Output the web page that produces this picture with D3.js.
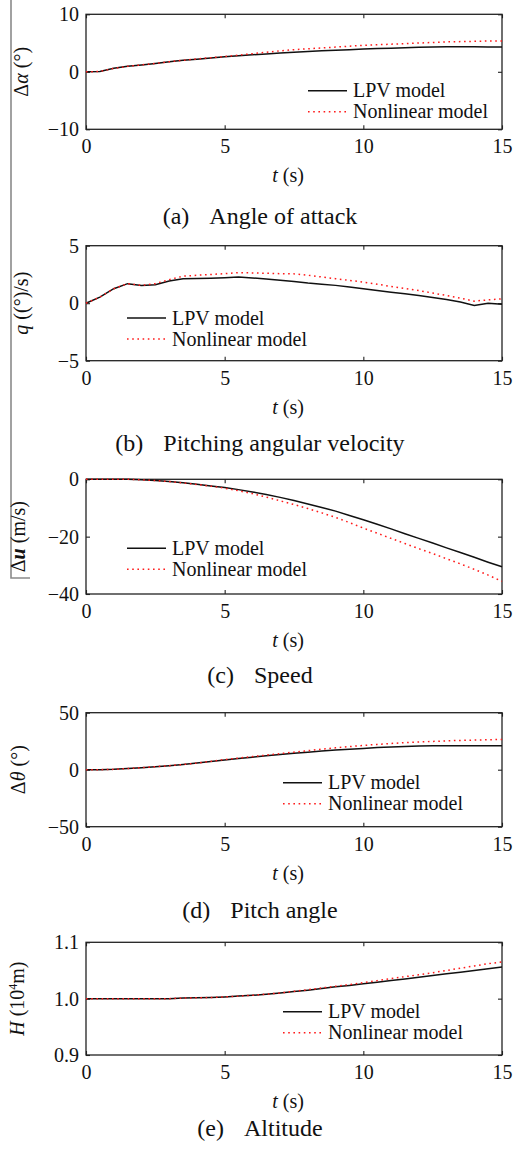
<!DOCTYPE html>
<html>
<head>
<meta charset="utf-8">
<script src="https://cdn.jsdelivr.net/npm/d3@7"></script>
<style>
  body { margin: 0; background: #fff; }
  svg { display: block; font-family: "Liberation Serif", "Times New Roman", serif; }
</style>
</head>
<body>
<svg width="513" height="1155"></svg>
<script>
// Sample times (s), shared by all panels
const times = [0, 0.5, 1, 1.5, 2, 2.5, 3, 3.5, 4, 4.5, 5, 5.5, 6, 6.5, 7, 7.5,
  8, 8.5, 9, 9.5, 10, 10.5, 11, 11.5, 12, 12.5, 13, 13.5, 14, 14.5, 15];
const xTicks = [0, 5, 10, 15];
const seriesNames = ['LPV model', 'Nonlinear model'];

// (a) angle of attack
const alphaLpv = [0, 0.05, 0.6, 0.95, 1.2, 1.45, 1.75, 2.0, 2.2, 2.4, 2.6, 2.8, 2.95, 3.1, 3.25,
  3.4, 3.55, 3.65, 3.75, 3.85, 3.95, 4.05, 4.1, 4.2, 4.25, 4.3, 4.35, 4.35, 4.35, 4.3, 4.3];
const alphaNonlin = [0, 0.05, 0.6, 0.95, 1.2, 1.45, 1.75, 2.0, 2.25, 2.45, 2.65, 2.9, 3.15, 3.4, 3.65,
  3.85, 4.0, 4.15, 4.3, 4.45, 4.6, 4.7, 4.8, 4.9, 5.0, 5.1, 5.2, 5.25, 5.3, 5.35, 5.35];
// (b) pitching angular velocity
const qLpv = [0, 0.53, 1.26, 1.7, 1.55, 1.6, 1.93, 2.13, 2.15, 2.18, 2.22, 2.28, 2.2, 2.1, 2.0,
  1.88, 1.75, 1.65, 1.55, 1.4, 1.26, 1.1, 0.96, 0.82, 0.67, 0.5, 0.32, 0.1, -0.2, 0, -0.1];
const qNonlin = [0, 0.53, 1.26, 1.7, 1.55, 1.7, 2.05, 2.35, 2.43, 2.5, 2.57, 2.66, 2.63, 2.6, 2.57,
  2.55, 2.43, 2.28, 2.13, 1.98, 1.84, 1.65, 1.46, 1.28, 1.1, 0.88, 0.67, 0.44, 0.18, 0.29, 0.38];
// (c) speed
const uLpv = [0, 0, 0, 0, -0.2, -0.45, -0.8, -1.2, -1.7, -2.3, -2.9, -3.6, -4.4, -5.3, -6.3,
  -7.4, -8.6, -9.8, -11.1, -12.6, -14.1, -15.7, -17.3, -19.0, -20.6, -22.2, -23.9, -25.5, -27.2, -28.9, -30.5];
const uNonlin = [0, 0, 0, 0, -0.2, -0.45, -0.8, -1.25, -1.8, -2.4, -3.1, -4.0, -5.0, -6.2, -7.5,
  -8.8, -10.2, -11.7, -13.3, -15.1, -17.0, -18.8, -20.6, -22.4, -24.2, -25.9, -27.7, -29.5, -31.4, -33.4, -35.6];
// (d) pitch angle
const thetaLpv = [0, 0, 0.3, 1.0, 1.8, 2.6, 3.5, 4.6, 5.8, 7.2, 8.6, 9.8, 11.0, 12.2, 13.3,
  14.4, 15.4, 16.4, 17.2, 18.0, 18.7, 19.4, 19.9, 20.4, 20.8, 20.9, 20.9, 20.9, 20.9, 20.9, 20.9];
const thetaNonlin = [0, 0, 0.3, 1.0, 1.8, 2.6, 3.5, 4.6, 5.8, 7.3, 8.9, 10.2, 11.5, 12.8, 14.1,
  15.4, 16.7, 18.0, 19.2, 20.3, 21.3, 22.2, 23.0, 23.7, 24.3, 24.8, 25.3, 25.7, 26.0, 26.3, 26.6];
// (e) altitude (10^4 m)
const hLpv = [1, 1, 1, 1, 1, 1, 1, 1.001, 1.0015, 1.002, 1.003, 1.0045, 1.006, 1.008, 1.010,
  1.0125, 1.015, 1.018, 1.021, 1.0235, 1.0265, 1.029, 1.032, 1.035, 1.038, 1.041, 1.044, 1.047, 1.050, 1.053, 1.056];
const hNonlin = [1, 1, 1, 1, 1, 1, 1, 1.001, 1.0015, 1.002, 1.003, 1.0045, 1.006, 1.008, 1.010,
  1.013, 1.0158, 1.019, 1.022, 1.025, 1.0285, 1.032, 1.0355, 1.039, 1.0425, 1.046, 1.050, 1.054, 1.058, 1.062, 1.065];

const yTicks = [[-10, 0, 10], [-5, 0, 5], [-40, -20, 0], [-50, 0, 50], [0.9, 1.0, 1.1]];
const yTickLabels = [['−10', '0', '10'], ['−5', '0', '5'], ['−40', '−20', '0'], ['−50', '0', '50'], ['0.9', '1.0', '1.1']];
const captionTags = ['(a)', '(b)', '(c)', '(d)', '(e)'];
const captionTexts = ['Angle of attack', 'Pitching angular velocity', 'Speed', 'Pitch angle', 'Altitude'];
// y label pieces: [text, style] where style is '', 'i' (italic) or 'bi' (bold italic)
const yLabels = [
  [['Δ', ''], ['α', 'i'], [' (°)', '']],
  [['q', 'i'], [' ((°)/s)', '']],
  [['Δ', ''], ['u', 'bi'], [' (m/s)', '']],
  [['Δ', ''], ['θ', 'i'], [' (°)', '']],
  [['H', 'i'], [' (10', ''], ['4', 'sup'], ['m)', 'down']],
];
const panelData = [
  [alphaLpv, alphaNonlin], [qLpv, qNonlin], [uLpv, uNonlin], [thetaLpv, thetaNonlin], [hLpv, hNonlin],
];

// Layout
const svg = d3.select('svg');
const plotLeft = 86;
const plotRight = 502;
const panelTops = [14.3, 245.7, 479.3, 712.7, 942.3];
const panelHeights = [115, 115, 114.7, 114, 112.7];
const yLabelX = [28, 28, 25, 25, 24];
const legendPos = [[308, 90.7], [127, 318], [127, 548.3], [283, 782.7], [283, 1011.7]];
const captionY = [224, 451, 683, 918, 1136];
const tickFont = 20;

// stray gray border of the source page
svg.append('path')
  .attr('d', 'M11,0V578H30')
  .attr('fill', 'none')
  .attr('stroke', '#8a8a8a')
  .attr('stroke-width', 1.6);

panelData.forEach((series, i) => {
  const w = plotRight - plotLeft;
  const h = panelHeights[i];
  const yt = yTicks[i];
  const x = d3.scaleLinear().domain([0, 15]).range([0, w]);
  const y = d3.scaleLinear().domain([yt[0], yt[2]]).range([h, 0]);

  const g = svg.append('g').attr('transform', `translate(${plotLeft},${panelTops[i]})`);

  // axes with inward ticks on all four sides
  const bottom = g.append('g')
    .attr('transform', `translate(0,${h})`)
    .call(d3.axisBottom(x).tickValues(xTicks).tickSizeInner(-4).tickSizeOuter(0).tickPadding(10));
  g.append('g')
    .call(d3.axisTop(x).tickValues(xTicks).tickSizeInner(-4).tickSizeOuter(0).tickFormat(''));
  const left = g.append('g')
    .call(d3.axisLeft(y).tickValues(yt).tickSizeInner(-4).tickSizeOuter(0).tickPadding(7)
      .tickFormat((d, k) => yTickLabels[i][k]));
  g.append('g')
    .attr('transform', `translate(${w},0)`)
    .call(d3.axisRight(y).tickValues(yt).tickSizeInner(-4).tickSizeOuter(0).tickFormat(''));

  g.selectAll('.domain').remove();
  g.selectAll('.tick line').attr('stroke', '#222').attr('stroke-width', 1.1);
  [bottom, left].forEach((a) => a.selectAll('text')
    .attr('font-family', '"Liberation Serif", "Times New Roman", serif')
    .attr('font-size', tickFont)
    .attr('fill', '#111'));

  g.append('rect')
    .attr('width', w)
    .attr('height', h)
    .attr('fill', 'none')
    .attr('stroke', '#222')
    .attr('stroke-width', 1.3);

  // curves
  const line = d3.line()
    .x((d, k) => x(times[k]))
    .y((d) => y(d));

  g.append('path')
    .datum(series[0])
    .attr('d', line)
    .attr('fill', 'none')
    .attr('stroke', '#111')
    .attr('stroke-width', 1.5);

  g.append('path')
    .datum(series[1])
    .attr('d', line)
    .attr('fill', 'none')
    .attr('stroke', '#ff1a1a')
    .attr('stroke-width', 1.5)
    .attr('stroke-dasharray', '1.6,3.6');

  // legend
  const [lx, ly] = legendPos[i];
  const legend = svg.append('g').attr('transform', `translate(${lx},${ly})`);
  seriesNames.forEach((name, k) => {
    legend.append('line')
      .attr('x1', 0)
      .attr('x2', 39)
      .attr('y1', k * 21)
      .attr('y2', k * 21)
      .attr('stroke', k === 0 ? '#111' : '#ff1a1a')
      .attr('stroke-width', 1.5)
      .attr('stroke-dasharray', k === 0 ? null : '1.6,3.6');
    legend.append('text')
      .attr('x', 45)
      .attr('y', k * 21 + 6.5)
      .attr('font-size', tickFont)
      .attr('fill', '#111')
      .text(name);
  });

  // x label
  const xl = svg.append('text')
    .attr('x', 288)
    .attr('y', panelTops[i] + h + 53)
    .attr('text-anchor', 'middle')
    .attr('font-size', tickFont)
    .attr('fill', '#111');
  xl.append('tspan').attr('font-style', 'italic').text('t');
  xl.append('tspan').text(' (s)');

  // y label (rotated)
  const yl = svg.append('text')
    .attr('transform', `translate(${yLabelX[i]},${panelTops[i] + h / 2}) rotate(-90)`)
    .attr('text-anchor', 'middle')
    .attr('font-size', tickFont)
    .attr('fill', '#111');
  yLabels[i].forEach(([txt, st]) => {
    const ts = yl.append('tspan').text(txt);
    if (st === 'i') ts.attr('font-style', 'italic');
    if (st === 'bi') ts.attr('font-style', 'italic').attr('font-weight', 'bold');
    if (st === 'sup') ts.attr('font-size', 12).attr('dy', -7);
    if (st === 'down') ts.attr('dy', 7);
  });

  // caption
  const cap = svg.append('text')
    .attr('x', 260)
    .attr('y', captionY[i])
    .attr('text-anchor', 'middle')
    .attr('font-size', 24)
    .attr('fill', '#111');
  cap.append('tspan').text(captionTags[i]);
  cap.append('tspan').attr('dx', 20).text(captionTexts[i]);
});
</script>
</body>
</html>
